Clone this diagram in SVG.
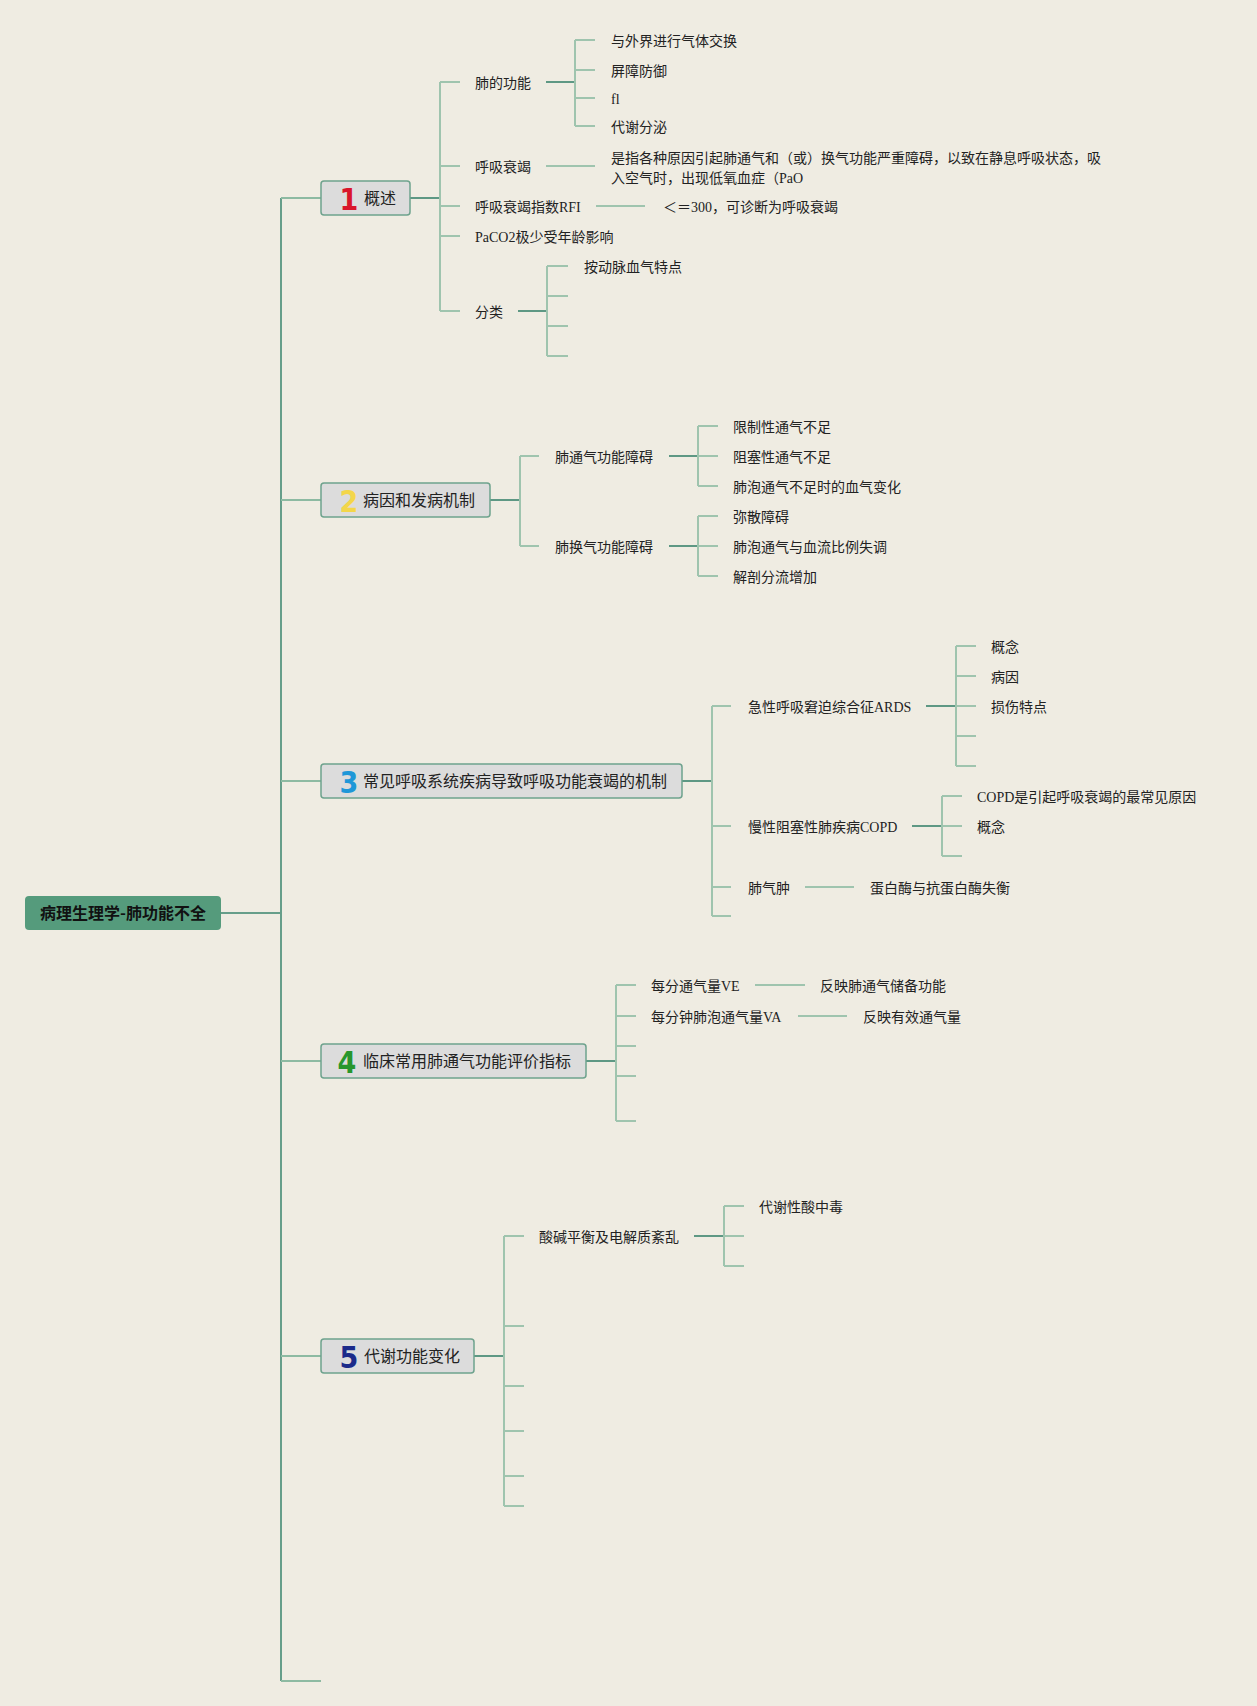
<svg xmlns="http://www.w3.org/2000/svg" width="1257" height="1706" viewBox="0 0 1257 1706">
<style>
.bg{fill:#efece2}
.cl{stroke:#9fc4ae;stroke-width:2;fill:none}
.cm{stroke:#8dbaa2;stroke-width:2;fill:none}
.cd{stroke:#5e9884;stroke-width:2;fill:none}
.ct{stroke:#669e8a;stroke-width:2;fill:none}
.t{font-family:"Liberation Serif","Noto Sans CJK SC",serif;font-size:14px;fill:#222}
.box{fill:#dcdcdc;stroke:#6ea28d;stroke-width:1.5}
.bt{font-family:"Noto Sans CJK SC",sans-serif;font-size:16px;fill:#222}
.num{font-family:"DejaVu Sans Condensed","Liberation Sans Narrow","Liberation Sans",sans-serif;font-stretch:condensed;font-weight:bold;font-size:30px;text-anchor:middle}
.root{fill:#559b7c}
.rt{font-family:"Noto Sans CJK SC",sans-serif;font-size:16px;font-weight:bold;fill:#111;text-anchor:middle}
</style>
<rect class="bg" x="0" y="0" width="1257" height="1706"/>
<g id="connectors">
<path class="ct" d="M281 198 V1681 M221 913 H281"/>
<path class="cm" d="M281 198 H321 M281 500 H321 M281 781 H321 M281 1061 H321 M281 1356 H321 M281 1681 H321"/>
<path class="cd" d="M410 198 H440"/>
<path class="cl" d="M440 82 V311 M440 82 H460 M440 166 H460 M440 206 H460 M440 236 H460 M440 311 H460"/>
<path class="cd" d="M546 82 H575"/>
<path class="cl" d="M575 40 V126 M575 40 H595 M575 70 H595 M575 98 H595 M575 126 H595"/>
<path class="cl" d="M546 166 H595"/>
<path class="cl" d="M596 206 H645"/>
<path class="cd" d="M518 311 H547"/>
<path class="cl" d="M547 266 V356 M547 266 H568 M547 296 H568 M547 326 H568 M547 356 H568"/>
<path class="cd" d="M490 500 H520"/>
<path class="cl" d="M520 456 V546 M520 456 H539 M520 546 H539"/>
<path class="cd" d="M669 456 H698 M669 546 H698"/>
<path class="cl" d="M698 426 V486 M698 426 H718 M698 456 H718 M698 486 H718"/>
<path class="cl" d="M698 516 V576 M698 516 H718 M698 546 H718 M698 576 H718"/>
<path class="cd" d="M682 781 H712"/>
<path class="cl" d="M712 706 V916 M712 706 H731 M712 826 H731 M712 887 H731 M712 916 H731"/>
<path class="cd" d="M926 706 H956"/>
<path class="cl" d="M956 646 V766 M956 646 H976 M956 676 H976 M956 706 H976 M956 736 H976 M956 766 H976"/>
<path class="cd" d="M912 826 H942"/>
<path class="cl" d="M942 796 V856 M942 796 H962 M942 826 H962 M942 856 H962"/>
<path class="cl" d="M805 887 H854"/>
<path class="cd" d="M586 1061 H616"/>
<path class="cl" d="M616 985 V1121 M616 985 H636 M616 1016 H636 M616 1046 H636 M616 1076 H636 M616 1121 H636"/>
<path class="cl" d="M755 985 H805 M798 1016 H847"/>
<path class="cd" d="M474 1356 H504"/>
<path class="cl" d="M504 1236 V1506 M504 1236 H524 M504 1326 H524 M504 1386 H524 M504 1431 H524 M504 1476 H524 M504 1506 H524"/>
<path class="cd" d="M694 1236 H724"/>
<path class="cl" d="M724 1206 V1266 M724 1206 H744 M724 1236 H744 M724 1266 H744"/>
</g>
<g id="root">
<rect class="root" x="25" y="896" width="196" height="34" rx="4"/>
<text class="rt" x="123" y="919">病理生理学-肺功能不全</text>
</g>
<g id="n1">
<rect class="box" x="321" y="181" width="89" height="34" rx="3"/>
<text class="num" x="349" y="210" fill="#d9162b">1</text>
<text class="bt" x="364" y="204">概述</text>
</g>
<g id="n1-children">
<text class="t" x="475" y="88">肺的功能</text>
<text class="t" x="475" y="172">呼吸衰竭</text>
<text class="t" x="475" y="212">呼吸衰竭指数RFI</text>
<text class="t" x="475" y="242">PaCO2极少受年龄影响</text>
<text class="t" x="475" y="317">分类</text>
<text class="t" x="611" y="46">与外界进行气体交换</text>
<text class="t" x="611" y="76">屏障防御</text>
<text class="t" x="611" y="104">fl</text>
<text class="t" x="611" y="132">代谢分泌</text>
<text class="t" x="611" y="163">是指各种原因引起肺通气和（或）换气功能严重障碍，以致在静息呼吸状态，吸</text>
<text class="t" x="611" y="183">入空气时，出现低氧血症（PaO</text>
<text class="t" x="663" y="212">＜＝300，可诊断为呼吸衰竭</text>
<text class="t" x="584" y="272">按动脉血气特点</text>
</g>
<g id="n2">
<rect class="box" x="321" y="483" width="169" height="34" rx="3"/>
<text class="num" x="349" y="512" fill="#f3d64a">2</text>
<text class="bt" x="363" y="506">病因和发病机制</text>
</g>
<g id="n2-children">
<text class="t" x="555" y="462">肺通气功能障碍</text>
<text class="t" x="555" y="552">肺换气功能障碍</text>
<text class="t" x="733" y="432">限制性通气不足</text>
<text class="t" x="733" y="462">阻塞性通气不足</text>
<text class="t" x="733" y="492">肺泡通气不足时的血气变化</text>
<text class="t" x="733" y="522">弥散障碍</text>
<text class="t" x="733" y="552">肺泡通气与血流比例失调</text>
<text class="t" x="733" y="582">解剖分流增加</text>
</g>
<g id="n3">
<rect class="box" x="321" y="764" width="361" height="34" rx="3"/>
<text class="num" x="349" y="793" fill="#1f97d8">3</text>
<text class="bt" x="363" y="787">常见呼吸系统疾病导致呼吸功能衰竭的机制</text>
</g>
<g id="n3-children">
<text class="t" x="748" y="712">急性呼吸窘迫综合征ARDS</text>
<text class="t" x="748" y="832">慢性阻塞性肺疾病COPD</text>
<text class="t" x="748" y="893">肺气肿</text>
<text class="t" x="991" y="652">概念</text>
<text class="t" x="991" y="682">病因</text>
<text class="t" x="991" y="712">损伤特点</text>
<text class="t" x="977" y="802">COPD是引起呼吸衰竭的最常见原因</text>
<text class="t" x="977" y="832">概念</text>
<text class="t" x="870" y="893">蛋白酶与抗蛋白酶失衡</text>
</g>
<g id="n4">
<rect class="box" x="321" y="1044" width="265" height="34" rx="3"/>
<text class="num" x="347" y="1073" fill="#27962c">4</text>
<text class="bt" x="363" y="1067">临床常用肺通气功能评价指标</text>
</g>
<g id="n4-children">
<text class="t" x="651" y="991">每分通气量VE</text>
<text class="t" x="651" y="1022">每分钟肺泡通气量VA</text>
<text class="t" x="820" y="991">反映肺通气储备功能</text>
<text class="t" x="863" y="1022">反映有效通气量</text>
</g>
<g id="n5">
<rect class="box" x="321" y="1339" width="153" height="34" rx="3"/>
<text class="num" x="349" y="1368" fill="#1b2a8a">5</text>
<text class="bt" x="364" y="1362">代谢功能变化</text>
</g>
<g id="n5-children">
<text class="t" x="539" y="1242">酸碱平衡及电解质紊乱</text>
<text class="t" x="759" y="1212">代谢性酸中毒</text>
</g>
</svg>
